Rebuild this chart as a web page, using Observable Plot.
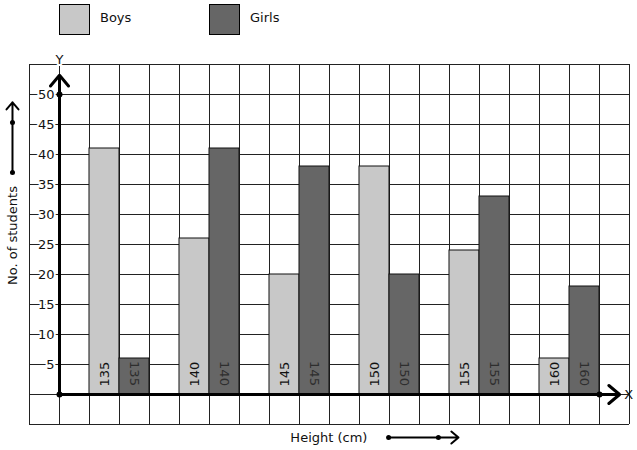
<!DOCTYPE html>
<html>
<head>
<meta charset="utf-8">
<script src="https://cdn.jsdelivr.net/npm/d3@7"></script>
<script src="https://cdn.jsdelivr.net/npm/@observablehq/plot@0.6"></script>
<style>
  body { margin: 0; background: #fff; font-family: "DejaVu Sans", sans-serif; }
  #legend { position: relative; width: 637px; height: 44px; font-size: 13px; }
  .sw { position: absolute; top: 4px; width: 31px; height: 31px; box-sizing: border-box; border: 1px solid #000; }
  .lb { position: absolute; top: 10px; color: #111; }
  svg { display: block; }
</style>
</head>
<body>
<div id="legend"></div>
<div id="chart"></div>
<script>
// ---- data ----
const heights = [135, 140, 145, 150, 155, 160];
const boys    = [41, 26, 20, 38, 24, 6];
const girls   = [6, 41, 38, 20, 33, 18];
const series  = ["Boys", "Girls"];
const colors  = ["#c8c8c8", "#666666"];
const yTicks  = [5, 10, 15, 20, 25, 30, 35, 40, 45, 50];

// ---- legend (HTML, above the SVG) ----
const legend = document.getElementById("legend");
const legendX = [59, 209];
series.forEach((s, i) => {
  const sw = document.createElement("div");
  sw.className = "sw"; sw.style.left = legendX[i] + "px"; sw.style.background = colors[i];
  const lb = document.createElement("div");
  lb.className = "lb"; lb.style.left = (legendX[i] + 41) + "px"; lb.textContent = s;
  legend.append(sw, lb);
});

// ---- table ----
const rows = heights.flatMap((h, i) => [
  {h, sex: "Boys",  n: boys[i],  slot: 3 * i + 1},
  {h, sex: "Girls", n: girls[i], slot: 3 * i + 2}
]);

// grid cells
const xLines = d3.range(-1, 20);
const yLines = d3.range(-5, 56, 5);

// axis decorations (in grid units)
const axes = [
  {x1: 0, y1: 0, x2: 0, y2: 53.2},
  {x1: 0, y1: 0, x2: 18.67, y2: 0}
];
const axisDots = [{x: 0, y: 0}, {x: 0, y: 50}, {x: 18, y: 0}];
const labelArrows = [
  {x1: -1.567, y1: 37, x2: -1.567, y2: 48.7},
  {x1: 10.97, y1: -7.17, x2: 13.3, y2: -7.17}
];
const labelDots = [{x: -1.567, y: 37}, {x: -1.567, y: 45.33}, {x: 10.97, y: -7.17}, {x: 12.63, y: -7.17}];

const FS = 13;
const chart = Plot.plot({
  width: 637,
  height: 406,
  marginLeft: 29,
  marginRight: 8,
  marginTop: 20,
  marginBottom: 26,
  x: {type: "linear", domain: [-1, 19], axis: null},
  y: {type: "linear", domain: [-5, 55], axis: null},
  color: {domain: series, range: colors},
  style: {fontFamily: "DejaVu Sans, sans-serif", fontSize: "13px", background: "#fff", overflow: "visible"},
  marks: [
    Plot.ruleX(xLines, {x: d => d, y1: -5, y2: 55, stroke: "#222", strokeWidth: 1}),
    Plot.ruleY(yLines, {y: d => d, x1: -1, x2: 19, stroke: "#222", strokeWidth: 1}),
    Plot.rectY(rows, {x1: "slot", x2: d => d.slot + 1, y1: 0, y2: "n", fill: "sex", stroke: "#111", strokeWidth: 1}),
    Plot.text(rows.filter(d => d.sex === "Boys"), {
      x: d => d.slot + 0.5, y: 3.4, text: d => String(d.h), rotate: -90, fill: "#111", fontSize: FS
    }),
    Plot.text(rows.filter(d => d.sex === "Girls"), {
      x: d => d.slot + 0.5, y: 3.5, text: d => String(d.h), rotate: 90, fill: "#2e2e2e", fontSize: FS
    }),
    Plot.text(yTicks, {
      x: 0, y: d => d, dx: -5, textAnchor: "end", text: d => String(d), fontSize: FS,
      fill: "#111", stroke: "white", strokeWidth: 4, paintOrder: "stroke"
    }),
    Plot.arrow(axes, {x1: "x1", y1: "y1", x2: "x2", y2: "y2", stroke: "#000", strokeWidth: 3, headLength: 7, headAngle: 80}),
    Plot.dot(axisDots, {x: "x", y: "y", r: 3, fill: "#000"}),
    Plot.text(["Y"], {x: 0, y: 55.7, text: d => d, fontSize: FS, fill: "#111", stroke: "white", strokeWidth: 4, paintOrder: "stroke"}),
    Plot.text(["X"], {x: 18.97, y: 0, text: d => d, fontSize: FS, fill: "#111"}),
    Plot.arrow(labelArrows, {x1: "x1", y1: "y1", x2: "x2", y2: "y2", stroke: "#000", strokeWidth: 2, headLength: 7, headAngle: 80}),
    Plot.dot(labelDots, {x: "x", y: "y", r: 2.5, fill: "#000"}),
    Plot.text(["No. of students"], {x: -1.567, y: 26.5, textAnchor: "middle", rotate: -90, text: d => d, fontSize: FS, fill: "#111"}),
    Plot.text(["Height (cm)"], {x: 8.98, y: -7.17, textAnchor: "middle", text: d => d, fontSize: FS, fill: "#111"})
  ]
});
document.getElementById("chart").append(chart);
</script>
</body>
</html>
